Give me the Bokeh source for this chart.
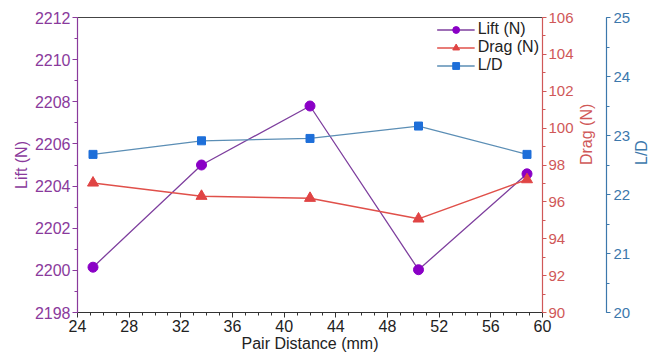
import math
from bokeh.plotting import figure
from bokeh.models import (LinearAxis, Range1d, SingleIntervalTicker, Legend, LegendItem)
from bokeh.embed import file_html
from bokeh.resources import INLINE

# Data
pair_distance = [25.2, 33.6, 42.0, 50.4, 58.8]
lift = [2200.15, 2205.0, 2207.8, 2200.03, 2204.58]
drag = [97.03, 96.31, 96.2, 95.08, 97.21]
lift_drag = [22.68, 22.91, 22.95, 23.16, 22.68]

FONT = "Liberation Sans"
C_LIFT_AX = "#8A3A9C"
C_LIFT_LN = "#7E3F9E"
C_LIFT_MK = "#8A00C6"
C_DRAG_AX = "#D05858"
C_DRAG_LN = "#E0504A"
C_DRAG_MK = "#E04444"
C_LD_AX = "#3C78AC"
C_LD_LN = "#5B8EB5"
C_LD_MK = "#1E6FD9"

p = figure(width=661, height=358, output_backend="svg", toolbar_location=None,
           x_range=Range1d(24, 60), y_range=Range1d(2198, 2212),
           min_border_left=77, min_border_right=110, min_border_top=17, min_border_bottom=46)
p.outline_line_color = None
p.xgrid.visible = False
p.ygrid.visible = False
p.background_fill_color = "white"
p.border_fill_color = "white"

p.extra_y_ranges = {"drag": Range1d(90, 106), "ld": Range1d(20, 25)}

def style_axis(ax, color, label_color, size="16px"):
    ax.axis_line_color = color
    ax.major_tick_line_color = color
    ax.minor_tick_line_color = color
    ax.major_label_text_color = label_color
    ax.axis_label_text_color = label_color
    ax.major_label_text_font = FONT
    ax.axis_label_text_font = FONT
    ax.major_label_text_font_size = size
    ax.axis_label_text_font_size = "16px"
    ax.axis_label_text_font_style = "normal"
    ax.major_tick_out = 5
    ax.major_tick_in = 0
    ax.minor_tick_out = 3
    ax.minor_tick_in = 0
    ax.axis_line_width = 1.2

# x axis
xax = p.xaxis[0]
xax.ticker = SingleIntervalTicker(interval=4, num_minor_ticks=4)
xax.axis_label = "Pair Distance (mm)"
style_axis(xax, "#333333", "#222222")
xax.axis_label_standoff = 0
xax.major_label_standoff = 2

# left axis
yax = p.yaxis[0]
yax.ticker = SingleIntervalTicker(interval=2, num_minor_ticks=2)
yax.axis_label = "Lift (N)"
style_axis(yax, C_LIFT_AX, C_LIFT_AX)
yax.axis_label_standoff = 2
yax.major_label_standoff = 2

# drag axis
dax = LinearAxis(y_range_name="drag", axis_label="Drag (N)",
                 ticker=SingleIntervalTicker(interval=2, num_minor_ticks=2))
style_axis(dax, C_DRAG_AX, C_DRAG_AX, size="15px")
dax.major_tick_out = 4
dax.axis_label_standoff = 10
dax.major_label_standoff = 2
dax.axis_label_orientation = math.pi / 2
p.add_layout(dax, "right")

# L/D axis
lax = LinearAxis(y_range_name="ld", axis_label="L/D",
                 ticker=SingleIntervalTicker(interval=1, num_minor_ticks=2))
style_axis(lax, C_LD_AX, C_LD_AX, size="15px")
lax.major_tick_out = 4
lax.axis_label_standoff = 8
lax.major_label_standoff = 3
lax.axis_label_orientation = math.pi / 2
p.add_layout(lax, "right")

# top frame line
tax = LinearAxis(ticker=SingleIntervalTicker(interval=100))
tax.axis_line_color = "#444444"
tax.major_tick_line_color = None
tax.minor_tick_line_color = None
tax.major_label_text_font_size = "0px"
tax.major_label_text_color = None
p.add_layout(tax, "above")

# series
l1 = p.line(pair_distance, lift, line_color=C_LIFT_LN, line_width=1.3)
s1 = p.scatter(pair_distance, lift, marker="circle", size=10, fill_color=C_LIFT_MK,
               line_color=C_LIFT_MK)
l2 = p.line(pair_distance, drag, y_range_name="drag", line_color=C_DRAG_LN, line_width=1.5)
s2 = p.scatter(pair_distance, drag, y_range_name="drag", marker="triangle", size=11,
               fill_color=C_DRAG_MK, line_color=C_DRAG_MK)
l3 = p.line(pair_distance, lift_drag, y_range_name="ld", line_color=C_LD_LN, line_width=1.3)
s3 = p.scatter(pair_distance, lift_drag, y_range_name="ld", marker="square", size=8,
               fill_color=C_LD_MK, line_color=C_LD_MK)

legend = Legend(items=[
    LegendItem(label="Lift (N)", renderers=[l1, s1]),
    LegendItem(label="Drag (N)", renderers=[l2, s2]),
    LegendItem(label="L/D", renderers=[l3, s3]),
], location="top_right")
legend.border_line_color = None
legend.background_fill_alpha = 0
legend.label_text_font = FONT
legend.label_text_font_size = "16px"
legend.label_text_color = "#222222"
legend.glyph_width = 38
legend.glyph_height = 17
legend.label_height = 17
legend.spacing = 0
legend.padding = 0
legend.margin = 3
legend.label_standoff = 3
p.add_layout(legend)

open("out.html", "w").write(file_html(p, INLINE))
